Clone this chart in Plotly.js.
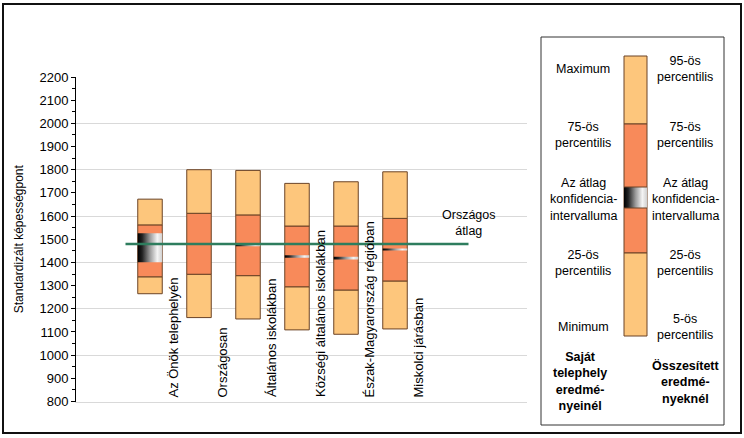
<!DOCTYPE html>
<html>
<head>
<meta charset="utf-8">
<script src="https://cdn.plot.ly/plotly-3.0.1.min.js"></script>
<style>
html,body{margin:0;padding:0;background:#fff;}
#chart{width:744px;height:438px;}
</style>
</head>
<body>
<div id="chart"></div>
<script>
// ---------------- data ----------------
const categories = ['Az Önök telephelyén', 'Országosan', 'Általános iskolákban',
  'Községi általános iskolákban', 'Észak-Magyarország régióban', 'Miskolci járásban'];
const lowValues  = [1265, 1162, 1156, 1109, 1090, 1113]; // minimum / 5-ös percentilis
const p25Values  = [1338, 1349, 1343, 1295, 1281, 1320];
const p75Values  = [1562, 1612, 1605, 1557, 1557, 1590];
const highValues = [1673, 1800, 1797, 1741, 1748, 1791]; // maximum / 95-ös percentilis
const ciLow      = [1401, 1476, 1470, 1420, 1413, 1452];
const ciHigh     = [1526, 1484, 1480, 1431, 1424, 1460];
const nationalMean = 1480;
const nationalLabel = 'Országos<br>átlag';
const yTitle = 'Standardizált képességpont';
const yTicks = [800, 900, 1000, 1100, 1200, 1300, 1400, 1500, 1600, 1700, 1800, 1900, 2000, 2100, 2200];

const legendLeft  = ['Maximum', '75-ös<br>percentilis', 'Az átlag<br>konfidencia-<br>intervalluma', '25-ös<br>percentilis', 'Minimum'];
const legendRight = ['95-ös<br>percentilis', '75-ös<br>percentilis', 'Az átlag<br>konfidencia-<br>intervalluma', '25-ös<br>percentilis', '5-ös<br>percentilis'];
const legendLeftTitle  = '<b>Saját<br>telephely<br>eredmé-<br>nyeinél</b>';
const legendRightTitle = '<b>Összesített<br>eredmé-<br>nyeknél</b>';

// ---------------- styles / layout geometry ----------------
const W = 744, H = 438;
const FONT = 'Liberation Sans, Arial, sans-serif';
const LIGHT = '#FDC67C', MID = '#F88A5A', EDGE = '#6b4326';
const GREEN = '#2E7D5E';
const ciScale = [[0,'#000000'],[0.18,'#222222'],[0.5,'#9a9a9a'],[0.8,'#f4f4f4'],[1,'#d0d0d0']];
const plotL = 76, plotR = 527, plotT = 77, plotB = 401.5;
const barW = 0.5;
const xIdx = categories.map((c, i) => i);

const traces = [];
// lower light segment
traces.push({type:'bar', x:xIdx, base:lowValues, y:lowValues.map((v,i)=>p25Values[i]-v), width:barW,
  marker:{color:LIGHT, line:{color:EDGE, width:1}}, hoverinfo:'skip', showlegend:false});
// middle orange segment
traces.push({type:'bar', x:xIdx, base:p25Values, y:p25Values.map((v,i)=>p75Values[i]-v), width:barW,
  marker:{color:MID, line:{color:EDGE, width:1}}, hoverinfo:'skip', showlegend:false});
// upper light segment
traces.push({type:'bar', x:xIdx, base:p75Values, y:p75Values.map((v,i)=>highValues[i]-v), width:barW,
  marker:{color:LIGHT, line:{color:EDGE, width:1}}, hoverinfo:'skip', showlegend:false});
// confidence intervals (gradient)
xIdx.forEach(i => {
  const a = i - barW/2, b = i + barW/2;
  traces.push({type:'scatter', mode:'lines', x:[a,b,b,a,a], y:[ciLow[i],ciLow[i],ciHigh[i],ciHigh[i],ciLow[i]],
    fill:'toself', fillgradient:{type:'horizontal', colorscale:ciScale}, line:{width:0, color:'rgba(0,0,0,0)'},
    hoverinfo:'skip', showlegend:false});
});
// national average line
traces.push({type:'scatter', mode:'lines', x:[-0.5, categories.length + 0.5], y:[nationalMean, nationalMean],
  line:{color:GREEN, width:2.5}, hoverinfo:'skip', showlegend:false});
// gridline helper axis (empty)
traces.push({type:'scatter', x:[], y:[], xaxis:'x', yaxis:'y3', showlegend:false, hoverinfo:'skip'});

// legend key gradient (pixel coordinates on x2/y2)
const key = {x0:624, x1:647, top:56, p75:124, ciT:187, ciB:208, p25:253, bot:336};
traces.push({type:'scatter', mode:'lines', xaxis:'x2', yaxis:'y2',
  x:[key.x0,key.x1,key.x1,key.x0,key.x0], y:[key.ciB,key.ciB,key.ciT,key.ciT,key.ciB],
  fill:'toself', fillgradient:{type:'horizontal', colorscale:ciScale}, line:{width:0, color:'rgba(0,0,0,0)'},
  hoverinfo:'skip', showlegend:false});

const shapes = [
  // outer frame
  {type:'rect', xref:'x2', yref:'y2', x0:3, x1:741, y0:4, y1:433, line:{color:'#111', width:2}, layer:'above'},
  // legend box
  {type:'rect', xref:'x2', yref:'y2', x0:541, x1:724, y0:37, y1:425, line:{color:'#333', width:1}, layer:'above'},
  // legend key segments
  {type:'rect', xref:'x2', yref:'y2', x0:key.x0, x1:key.x1, y0:key.top, y1:key.p75, fillcolor:LIGHT, line:{color:EDGE, width:1}, layer:'below'},
  {type:'rect', xref:'x2', yref:'y2', x0:key.x0, x1:key.x1, y0:key.p75, y1:key.p25, fillcolor:MID, line:{color:EDGE, width:1}, layer:'below'},
  {type:'rect', xref:'x2', yref:'y2', x0:key.x0, x1:key.x1, y0:key.p25, y1:key.bot, fillcolor:LIGHT, line:{color:EDGE, width:1}, layer:'below'},
  {type:'line', xref:'x2', yref:'y2', x0:key.x0, x1:key.x1, y0:key.ciT, y1:key.ciT, line:{color:EDGE, width:1}, layer:'above'},
  {type:'line', xref:'x2', yref:'y2', x0:key.x0, x1:key.x1, y0:key.ciB, y1:key.ciB, line:{color:EDGE, width:1}, layer:'above'},
];

const annotations = [];
// category labels (rotated, bottom aligned)
categories.forEach((c, i) => {
  annotations.push({xref:'x', yref:'y', x:i + 0.47, y:800, text:c, textangle:-90, showarrow:false,
    xanchor:'center', yanchor:'bottom', yshift:2, font:{family:FONT, size:13, color:'#000'}});
});
// national average label
annotations.push({xref:'x', yref:'y', x:categories.length + 0.5, y:nationalMean, text:nationalLabel, showarrow:false,
  xanchor:'center', yanchor:'bottom', yshift:4, font:{family:FONT, size:12.5, color:'#000'}});
// y axis title
annotations.push({xref:'x2', yref:'y2', x:19, y:(plotT+plotB)/2, text:yTitle, textangle:-90, showarrow:false,
  xanchor:'center', yanchor:'middle', font:{family:FONT, size:12, color:'#000'}});
// legend texts
const legY = [69, 135, 199, 263, 327];
legendLeft.forEach((t, i) => annotations.push({xref:'x2', yref:'y2', x:583, y:legY[i], text:t, showarrow:false,
  xanchor:'center', yanchor:'middle', font:{family:FONT, size:12.5, color:'#000'}}));
legendRight.forEach((t, i) => annotations.push({xref:'x2', yref:'y2', x:685, y:legY[i], text:t, showarrow:false,
  xanchor:'center', yanchor:'middle', font:{family:FONT, size:12.5, color:'#000'}}));
annotations.push({xref:'x2', yref:'y2', x:580, y:381, text:legendLeftTitle, showarrow:false,
  xanchor:'center', yanchor:'middle', font:{family:FONT, size:12.5, color:'#000'}});
annotations.push({xref:'x2', yref:'y2', x:686, y:382, text:legendRightTitle, showarrow:false,
  xanchor:'center', yanchor:'middle', font:{family:FONT, size:12.5, color:'#000'}});

const layout = {
  width:W, height:H,
  margin:{l:0, r:0, t:0, b:0, pad:0},
  paper_bgcolor:'#fff', plot_bgcolor:'rgba(0,0,0,0)',
  barmode:'overlay',
  showlegend:false,
  font:{family:FONT, size:13, color:'#000'},
  xaxis:{domain:[plotL/W, plotR/W], range:[(plotL-150)/49 - 0, (plotR-150)/49], showgrid:false, zeroline:false,
    showline:true, linecolor:'#d9d9d9', linewidth:1, ticks:'', showticklabels:false, fixedrange:true},
  yaxis:{domain:[(H-plotB)/H, (H-plotT)/H], range:[800, 2200], tickvals:yTicks, showgrid:false, zeroline:false,
    showline:true, linecolor:'#000', linewidth:1, ticks:'outside', ticklen:4, tickcolor:'#000', tickwidth:1,
    tickfont:{family:FONT, size:13, color:'#000'},
    minor:{dtick:50, tick0:800, ticks:'outside', ticklen:3, tickcolor:'#000', showgrid:false}},
  yaxis3:{overlaying:'y', anchor:'x', side:'left', range:[800, 2200], dtick:200, tick0:800, showgrid:true,
    gridcolor:'#d9d9d9', gridwidth:1, showticklabels:false, ticks:'', showline:false, zeroline:false},
  xaxis2:{domain:[0,1], range:[0, W], visible:false, anchor:'y2', fixedrange:true},
  yaxis2:{domain:[0,1], range:[H, 0], visible:false, anchor:'x2', fixedrange:true},
  shapes:shapes,
  annotations:annotations
};

Plotly.newPlot('chart', traces, layout, {staticPlot:true, displayModeBar:false});
</script>
</body>
</html>
